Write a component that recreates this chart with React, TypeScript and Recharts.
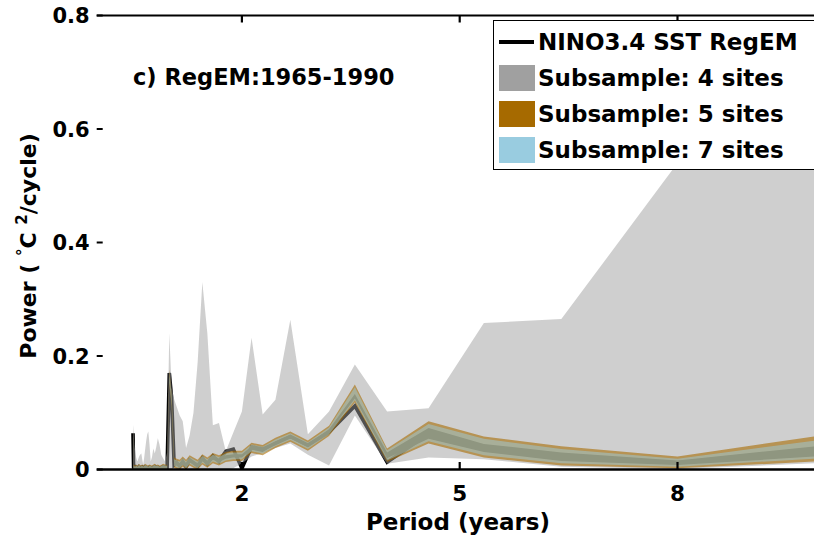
import React from 'react';
import { ComposedChart, Area, Line, XAxis, YAxis, Legend } from 'recharts';

// Spectral periods in years (frequency grid k/32 cycles per year, k = 64 ... 3)
const periods = [
  0.5, 0.508, 0.516, 0.525, 0.533, 0.542, 0.552, 0.561, 0.571, 0.582,
  0.593, 0.604, 0.615, 0.627, 0.64, 0.653, 0.667, 0.681, 0.696, 0.711,
  0.727, 0.744, 0.762, 0.78, 0.8, 0.821, 0.842, 0.865, 0.889, 0.914,
  0.941, 0.97,
  1.0, 1.032, 1.067, 1.103, 1.143, 1.185, 1.231, 1.28, 1.333, 1.391,
  1.455, 1.524, 1.6, 1.684, 1.778, 1.882, 2.0, 2.133, 2.286, 2.462,
  2.667, 2.909, 3.2, 3.556, 4.0, 4.571, 5.333, 6.4, 8.0, 10.667,
];

// NINO3.4 SST (RegEM) power spectrum
const ninoPower = [
  0.064, 0.004, 0.002, 0.003, 0.002, 0.004, 0.003, 0.002, 0.003, 0.005,
  0.004, 0.002, 0.003, 0.004, 0.002, 0.003, 0.005, 0.004, 0.003, 0.002,
  0.004, 0.003, 0.002, 0.004, 0.005, 0.003, 0.004, 0.002, 0.003, 0.005,
  0.004, 0.003,
  0.170, 0.126, 0.008, 0.012, 0.006, 0.014, 0.005, 0.017, 0.012, 0.006,
  0.020, 0.010, 0.024, 0.014, 0.032, 0.036, 0.002, 0.040, 0.036, 0.046,
  0.058, 0.043, 0.066, 0.112, 0.013, 0.063, 0.038, 0.022, 0.012, 0.040,
];

// Subsample of 4 sites: spread of spectra
const fourLow = [
  0, 0, 0, 0, 0, 0, 0, 0, 0, 0,
  0, 0, 0, 0, 0, 0, 0, 0, 0, 0,
  0, 0, 0, 0, 0, 0, 0, 0, 0, 0,
  0, 0,
  0, 0, 0, 0, 0, 0, 0, 0, 0, 0,
  0, 0, 0, 0, 0, 0.002, 0.011, 0.023, 0.029, 0.038,
  0.046, 0.026, 0.007, 0.095, 0.010, 0.021, 0.018, 0.005, 0.001, 0.015,
];
const fourHigh = [
  0.079, 0.065, 0.050, 0.038, 0.030, 0.022, 0.017, 0.014, 0.018, 0.022,
  0.025, 0.027, 0.028, 0.018, 0.009, 0.020, 0.035, 0.050, 0.062, 0.067,
  0.045, 0.014, 0.022, 0.037, 0.028, 0.040, 0.055, 0.044, 0.026, 0.020,
  0.014, 0.030,
  0.240, 0.144, 0.124, 0.110, 0.095, 0.085, 0.038, 0.060, 0.100, 0.190,
  0.330, 0.240, 0.078, 0.082, 0.032, 0.065, 0.102, 0.232, 0.097, 0.123,
  0.264, 0.062, 0.102, 0.185, 0.102, 0.108, 0.258, 0.265, 0.540, 0.750,
];

// Subsample of 5 sites
const fiveLow = [
  0.052, 0, 0, 0, 0, 0, 0, 0, 0, 0,
  0, 0, 0, 0, 0, 0, 0, 0, 0, 0,
  0, 0, 0, 0, 0, 0, 0, 0, 0, 0,
  0, 0,
  0.150, 0.110, 0.003, 0.001, 0, 0.005, 0, 0.007, 0.003, 0,
  0.009, 0.003, 0.011, 0.007, 0.013, 0.015, 0.015, 0.029, 0.025, 0.038,
  0.049, 0.033, 0.059, 0.118, 0.013, 0.046, 0.021, 0.007, 0.002, 0.019,
];
const fiveHigh = [
  0.068, 0.010, 0.007, 0.008, 0.007, 0.009, 0.008, 0.007, 0.008, 0.010,
  0.009, 0.007, 0.008, 0.009, 0.007, 0.008, 0.010, 0.009, 0.008, 0.007,
  0.009, 0.008, 0.007, 0.009, 0.010, 0.008, 0.009, 0.007, 0.008, 0.010,
  0.009, 0.008,
  0.176, 0.135, 0.021, 0.019, 0.017, 0.023, 0.017, 0.025, 0.021, 0.017,
  0.027, 0.021, 0.029, 0.025, 0.031, 0.033, 0.033, 0.047, 0.043, 0.056,
  0.067, 0.051, 0.077, 0.150, 0.037, 0.085, 0.058, 0.041, 0.023, 0.073,
];

// Subsample of 7 sites
const sevenLow = [
  0.055, 0.001, 0.001, 0.001, 0.001, 0.001, 0.001, 0.001, 0.001, 0.001,
  0.001, 0.001, 0.001, 0.001, 0.001, 0.001, 0.001, 0.001, 0.001, 0.001,
  0.001, 0.001, 0.001, 0.001, 0.001, 0.001, 0.001, 0.001, 0.001, 0.001,
  0.001, 0.001,
  0.153, 0.113, 0.006, 0.004, 0.002, 0.008, 0.002, 0.010, 0.006, 0.002,
  0.012, 0.006, 0.014, 0.010, 0.016, 0.018, 0.018, 0.032, 0.028, 0.041,
  0.052, 0.036, 0.062, 0.122, 0.016, 0.050, 0.025, 0.011, 0.005, 0.025,
];
const sevenHigh = [
  0.066, 0.008, 0.005, 0.006, 0.005, 0.007, 0.006, 0.005, 0.006, 0.008,
  0.007, 0.005, 0.006, 0.007, 0.005, 0.006, 0.008, 0.007, 0.006, 0.005,
  0.007, 0.006, 0.005, 0.007, 0.008, 0.006, 0.007, 0.005, 0.006, 0.008,
  0.007, 0.006,
  0.172, 0.132, 0.018, 0.016, 0.014, 0.020, 0.014, 0.022, 0.018, 0.014,
  0.024, 0.018, 0.026, 0.022, 0.028, 0.030, 0.030, 0.044, 0.040, 0.053,
  0.064, 0.048, 0.074, 0.145, 0.034, 0.080, 0.054, 0.036, 0.019, 0.064,
];

// Range shared by all subsamples (densest overlap)
const sharedLow = [
  0.058, 0.002, 0.002, 0.002, 0.002, 0.002, 0.002, 0.002, 0.002, 0.002,
  0.002, 0.002, 0.002, 0.002, 0.002, 0.002, 0.002, 0.002, 0.002, 0.002,
  0.002, 0.002, 0.002, 0.002, 0.002, 0.002, 0.002, 0.002, 0.002, 0.002,
  0.002, 0.002,
  0.158, 0.118, 0.009, 0.007, 0.005, 0.011, 0.005, 0.013, 0.009, 0.005,
  0.015, 0.009, 0.017, 0.013, 0.019, 0.021, 0.021, 0.035, 0.031, 0.044,
  0.055, 0.039, 0.065, 0.125, 0.020, 0.054, 0.031, 0.015, 0.008, 0.029,
];
const sharedHigh = [
  0.063, 0.005, 0.004, 0.004, 0.004, 0.005, 0.004, 0.004, 0.004, 0.005,
  0.005, 0.004, 0.004, 0.005, 0.004, 0.004, 0.005, 0.005, 0.004, 0.004,
  0.005, 0.004, 0.004, 0.005, 0.005, 0.004, 0.005, 0.004, 0.004, 0.005,
  0.005, 0.004,
  0.168, 0.128, 0.015, 0.013, 0.011, 0.017, 0.011, 0.019, 0.015, 0.011,
  0.021, 0.015, 0.023, 0.019, 0.025, 0.027, 0.027, 0.041, 0.037, 0.050,
  0.061, 0.045, 0.071, 0.133, 0.030, 0.073, 0.045, 0.030, 0.016, 0.051,
];

const xTicks = [2, 5, 8];
const yTicks = [0, 0.2, 0.4, 0.6, 0.8];
const yTickLabels = ['0', '0.2', '0.4', '0.6', '0.8'];

const NAME_NINO = 'NINO3.4 SST RegEM';
const NAME_FOUR = 'Subsample: 4 sites';
const NAME_FIVE = 'Subsample: 5 sites';
const NAME_SEVEN = 'Subsample: 7 sites';
const legendOrder = [NAME_NINO, NAME_FOUR, NAME_FIVE, NAME_SEVEN];
const panelTitle = 'c) RegEM:1965-1990';
const xTitle = 'Period (years)';

const COLOR_FOUR = '#a0a0a0';
const COLOR_FIVE = '#a66a00';
const COLOR_SEVEN = '#99cce0';

const FONT = '"DejaVu Sans", "Liberation Sans", sans-serif';

const data = periods.map((p, i) => ({
  period: p,
  nino: ninoPower[i],
  four: [fourLow[i], fourHigh[i]],
  five: [fiveLow[i], fiveHigh[i]],
  seven: [sevenLow[i], sevenHigh[i]],
  shared: [sharedLow[i], sharedHigh[i]],
}));

// Layout
const CHART_W = 840;
const CHART_H = 543;
const PLOT_LEFT = 96.7;
const PLOT_TOP = 15.5;
const PLOT_BOTTOM = 469.5;
const PLOT_RIGHT = 822.7;

const BottomTick = (props: any) => {
  const { x, y, payload } = props;
  return (
    <g>
      <line x1={x} x2={x} y1={y} y2={y - 7.5} stroke="#000" strokeWidth={2.2} />
      <text x={x} y={y + 31} textAnchor="middle" fontFamily={FONT} fontWeight="bold" fontSize={21.5} fill="#000">
        {payload.value}
      </text>
    </g>
  );
};

const TopTick = (props: any) => {
  const { x, y } = props;
  return <line x1={x} x2={x} y1={y} y2={y + 7} stroke="#000" strokeWidth={2.2} />;
};

const LeftTick = (props: any) => {
  const { x, y, payload } = props;
  const idx = yTicks.indexOf(payload.value);
  const label = idx >= 0 ? yTickLabels[idx] : String(payload.value);
  return (
    <g>
      <line x1={x} x2={x + 6} y1={y} y2={y} stroke="#000" strokeWidth={2} />
      <text x={x - 7} y={y} dy="0.36em" textAnchor="end" fontFamily={FONT} fontWeight="bold" fontSize={21} fill="#000">
        {label}
      </text>
    </g>
  );
};

const XTitle = () => (
  <text x={458} y={530} textAnchor="middle" fontFamily={FONT} fontWeight="bold" fontSize={23} fill="#000">
    {xTitle}
  </text>
);

const YTitle = () => (
  <text
    x={36}
    y={246}
    transform="rotate(-90, 36, 246)"
    textAnchor="middle"
    fontFamily={FONT}
    fontWeight="bold"
    fontSize={22}
    fill="#000"
    style={{ whiteSpace: 'pre' }}
  >
    <tspan>{'Power ( '}</tspan>
    <tspan dy={-8} fontSize={15}>°</tspan>
    <tspan dy={8}>{'C '}</tspan>
    <tspan dy={-9} fontSize={15}>2</tspan>
    <tspan dy={9}>/cycle)</tspan>
  </text>
);

const PanelTitle = () => (
  <text x={133} y={85} textAnchor="start" fontFamily={FONT} fontWeight="bold" fontSize={22.5} fill="#000">
    {panelTitle}
  </text>
);

const LegendBox = (props: any) => {
  const items = (props.payload || [])
    .filter((p: any) => legendOrder.includes(p.value))
    .sort((a: any, b: any) => legendOrder.indexOf(a.value) - legendOrder.indexOf(b.value));
  return (
    <div
      style={{
        border: '1px solid #000',
        background: '#fff',
        width: 330,
        height: 144.5,
        paddingTop: 3.5,
        boxSizing: 'content-box',
      }}
    >
      {items.map((p: any) => (
        <div key={p.value} style={{ display: 'flex', alignItems: 'center', height: 36 }}>
          <div style={{ width: 36, marginLeft: 5.5, height: 36, display: 'flex', alignItems: 'center' }}>
            {p.type === 'line' ? (
              <div style={{ width: 35, height: 3.5, background: p.color }} />
            ) : (
              <div style={{ width: 36, height: 26, background: p.color }} />
            )}
          </div>
          <span
            style={{
              marginLeft: 3,
              fontFamily: FONT,
              fontWeight: 'bold',
              fontSize: 23,
              lineHeight: '36px',
              whiteSpace: 'nowrap',
              color: '#000',
            }}
          >
            {p.value}
          </span>
        </div>
      ))}
    </div>
  );
};

export default function App() {
  return (
    <div
      style={{
        position: 'absolute',
        left: 0,
        top: 0,
        width: 814,
        height: 543,
        overflow: 'hidden',
        background: '#fff',
      }}
    >
      <ComposedChart
        width={CHART_W}
        height={CHART_H}
        data={data}
        margin={{ top: PLOT_TOP - 1, right: CHART_W - PLOT_RIGHT, bottom: 0, left: 0 }}
      >
        <Line
          dataKey="nino"
          name={NAME_NINO}
          type="linear"
          stroke="#000"
          strokeWidth={3.6}
          dot={false}
          activeDot={false}
          legendType="line"
          isAnimationActive={false}
          zIndex={1}
        />
        <Area
          dataKey="shared"
          type="linear"
          stroke="none"
          fill="#000"
          fillOpacity={1}
          legendType="none"
          dot={false}
          activeDot={false}
          isAnimationActive={false}
          zIndex={2}
        />
        <Area
          dataKey="four"
          name={NAME_FOUR}
          type="linear"
          stroke="none"
          fill={COLOR_FOUR}
          fillOpacity={0.5}
          legendType="rect"
          dot={false}
          activeDot={false}
          isAnimationActive={false}
          zIndex={3}
        />
        <Area
          dataKey="five"
          name={NAME_FIVE}
          type="linear"
          stroke="none"
          fill={COLOR_FIVE}
          fillOpacity={0.6}
          legendType="rect"
          dot={false}
          activeDot={false}
          isAnimationActive={false}
          zIndex={4}
        />
        <Area
          dataKey="seven"
          name={NAME_SEVEN}
          type="linear"
          stroke="none"
          fill={COLOR_SEVEN}
          fillOpacity={0.5}
          legendType="rect"
          dot={false}
          activeDot={false}
          isAnimationActive={false}
          zIndex={5}
        />
        <XAxis
          dataKey="period"
          type="number"
          domain={[0, 10]}
          allowDataOverflow
          ticks={xTicks}
          interval={0}
          height={CHART_H - PLOT_BOTTOM}
          axisLine={{ stroke: '#000', strokeWidth: 2.4 }}
          tickLine={false}
          tickSize={0}
          tickMargin={0}
          tick={<BottomTick />}
          label={XTitle}
        />
        <XAxis
          xAxisId="top"
          orientation="top"
          dataKey="period"
          type="number"
          domain={[0, 10]}
          allowDataOverflow
          ticks={xTicks}
          interval={0}
          height={1}
          axisLine={{ stroke: '#000', strokeWidth: 2.2 }}
          tickLine={false}
          tickSize={0}
          tickMargin={0}
          tick={<TopTick />}
          label={PanelTitle}
        />
        <YAxis
          type="number"
          domain={[0, 0.8]}
          allowDataOverflow
          ticks={yTicks}
          interval={0}
          width={PLOT_LEFT}
          axisLine={false}
          tickLine={false}
          tickSize={0}
          tickMargin={0}
          tick={<LeftTick />}
          label={YTitle}
        />
        <Legend
          layout="vertical"
          align="center"
          verticalAlign="middle"
          wrapperStyle={{ left: 492.5, top: 19.5 }}
          content={<LegendBox />}
        />
      </ComposedChart>
    </div>
  );
}
